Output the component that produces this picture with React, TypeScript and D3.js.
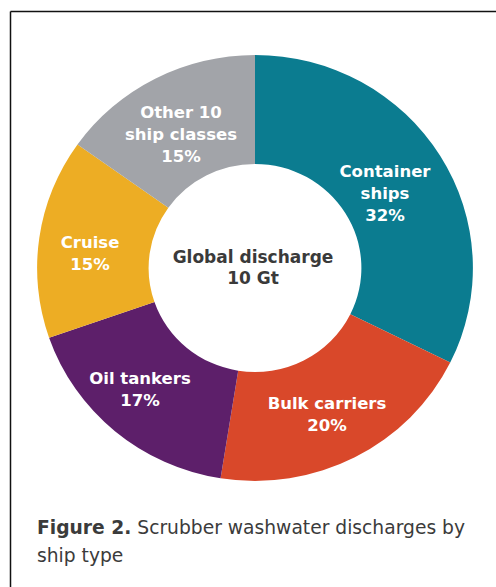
import React from "react";
import * as d3 from "d3";

const categories = ["Container ships", "Bulk carriers", "Oil tankers", "Cruise", "Other 10 ship classes"];
const values = [32, 20, 17, 15, 15];
const colors = ["#0B7C90", "#D9482A", "#5D1F6A", "#EDAD24", "#A2A4A9"];
const labelLines = [
  ["Container", "ships", "32%"],
  ["Bulk carriers", "20%"],
  ["Oil tankers", "17%"],
  ["Cruise", "15%"],
  ["Other 10", "ship classes", "15%"],
];
const labelPos: [number, number][] = [
  [385, 171],
  [327, 403],
  [140, 378],
  [90, 242],
  [181, 112],
];
const centerLines = ["Global discharge", "10 Gt"];

export default function App() {
  const W = 496;
  const H = 587;
  const cx = 255;
  const cy = 268;
  const rOuter = 213;
  const rInner = 104;
  const pie = d3.pie<number>().sort(null).value((d) => d);
  const arcs = pie(values);
  const arc = d3.arc<d3.PieArcDatum<number>>().innerRadius(rInner).outerRadius(rOuter);
  const font = "'DejaVu Sans', 'Open Sans', sans-serif";
  return (
    <svg width={W} height={H} style={{ position: "absolute", left: 0, top: 0, background: "#fff" }}>
      <rect x={0} y={0} width={W} height={H} fill="#fff" />
      <line x1={10.5} y1={11.5} x2={W} y2={11.5} stroke="#111" strokeWidth={1.5} />
      <line x1={10.5} y1={11.5} x2={10.5} y2={H} stroke="#111" strokeWidth={1.5} />
      <g transform={`translate(${cx},${cy}) scale(1.023,1)`}>
        {arcs.map((a, i) => (
          <path key={categories[i]} d={arc(a) || ""} fill={colors[i]} />
        ))}
      </g>
      {labelLines.map((lines, i) => (
        <text
          key={categories[i]}
          x={labelPos[i][0]}
          y={labelPos[i][1]}
          textAnchor="middle"
          dominantBaseline="central"
          fill="#fff"
          fontFamily={font}
          fontWeight={700}
          fontSize={16.5}
        >
          {lines.map((l, j) => (
            <tspan key={j} x={labelPos[i][0]} dy={j === 0 ? 0 : 22}>
              {l}
            </tspan>
          ))}
        </text>
      ))}
      <text
        x={253}
        y={257}
        textAnchor="middle"
        dominantBaseline="central"
        fill="#3a3a3a"
        fontFamily={font}
        fontWeight={700}
        fontSize={17}
      >
        {centerLines.map((l, j) => (
          <tspan key={j} x={253} dy={j === 0 ? 0 : 21}>
            {l}
          </tspan>
        ))}
      </text>
      <text x={37} y={534} fill="#3b3b3b" fontFamily={font} fontSize={18.7}>
        <tspan fontWeight={700}>Figure 2.</tspan>
        <tspan> Scrubber washwater discharges by</tspan>
        <tspan x={37} dy={28}>ship type</tspan>
      </text>
    </svg>
  );
}
